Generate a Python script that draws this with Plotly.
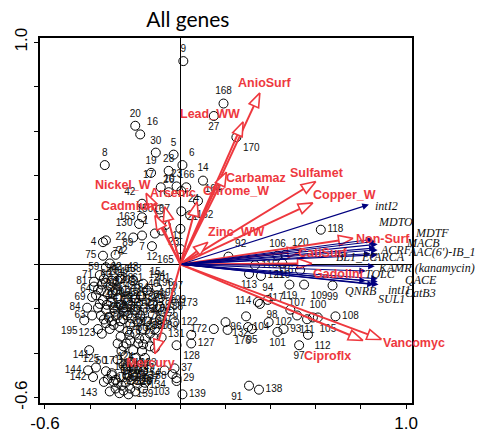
import numpy as np
import plotly.graph_objects as go

# ---------------- sample scores (labelled) ----------------
sample_ids = ["9","168","27","170","20","16","30","5","8","6","19","28","14","17","23","166","10","26",
              "42","164","150","163","130","167","24","162","21","11","22","7","1","12","23","165",
              "4","74","75","89","72","59","71","81","64","69","84","63","195","123","50","141","125",
              "144","142","143","171","124","126","187","134","103","37","29","159","139","91","138",
              "43","133","15","194","54","25","40","36","173","44","122","137","131","127","128","172",
              "132","176","96","118","92","106","120","115","121","113","110","116","119","109","99",
              "94","114","98","117","107","100","108","111","105","104","102","93","95","101","112","97"]
sample_x = [0.013,0.191,0.148,0.248,-0.200,-0.178,-0.109,-0.030,-0.335,0.009,-0.130,-0.052,0.100,-0.087,-0.017,0.026,0.004,-0.052,
            -0.170,0.078,-0.091,-0.170,-0.183,-0.083,0.004,0.043,0.000,-0.065,-0.209,-0.170,-0.113,-0.126,-0.083,0.000,
            -0.343,-0.330,-0.343,-0.287,-0.313,-0.330,-0.357,-0.383,-0.365,-0.391,-0.413,-0.391,-0.426,-0.348,-0.404,-0.374,-0.330,
            -0.409,-0.387,-0.339,-0.304,-0.243,-0.165,-0.070,-0.035,-0.017,-0.026,-0.017,-0.157,0.009,0.304,0.348,
            -0.265,-0.209,-0.165,-0.104,-0.304,-0.200,-0.174,-0.091,-0.026,-0.048,-0.026,-0.083,0.048,0.048,-0.017,0.148,
            0.200,0.209,0.300,0.622,0.213,0.430,0.465,0.330,0.357,0.304,0.452,0.530,0.483,0.548,0.674,
            0.387,0.343,0.352,0.487,0.517,0.609,0.687,0.561,0.587,0.291,0.391,0.457,0.317,0.430,0.565,0.526]
sample_y = [0.915,0.724,0.668,0.572,0.624,0.585,0.503,0.494,0.447,0.447,0.412,0.421,0.377,0.347,0.351,0.347,0.330,0.325,
            0.273,0.286,0.247,0.212,0.182,0.195,0.239,0.221,0.160,0.178,0.121,0.130,0.139,0.082,0.152,0.069,
            0.100,0.108,0.039,0.043,0.004,-0.013,-0.048,-0.078,-0.113,-0.147,-0.195,-0.230,-0.252,-0.312,-0.386,-0.464,-0.481,
            -0.477,-0.507,-0.529,-0.490,-0.473,-0.481,-0.477,-0.494,-0.525,-0.468,-0.512,-0.533,-0.585,-0.546,-0.564,
            -0.065,-0.074,-0.087,-0.104,-0.074,-0.152,-0.143,-0.191,-0.178,-0.212,-0.260,-0.329,-0.317,-0.356,-0.364,-0.291,
            -0.260,-0.295,-0.282,0.156,0.035,0.039,0.043,-0.004,-0.052,-0.043,0.004,-0.026,-0.091,-0.091,-0.095,
            -0.160,-0.169,-0.178,-0.204,-0.230,-0.239,-0.234,-0.247,-0.239,-0.234,-0.260,-0.291,-0.291,-0.304,-0.317,-0.364]
sample_textpos = ["top center","top center","bottom center","bottom right","top center","top right","top center","top center",
                  "top center","top right","top center","top center","top center","top left","top center","top center",
                  "top left","top center","top left","top right","middle left","middle left","middle left","top center",
                  "top right","middle right","top right","bottom right","middle left","bottom center","top left",
                  "bottom center","bottom right","bottom left",
                  "middle left","bottom right","middle left","top right","top right","middle left","middle left",
                  "middle left","middle left","middle left","middle left","middle left","bottom left","middle left",
                  "bottom right","top left","top left","middle left","middle left","bottom left","top center",
                  "top center","bottom center","bottom left","bottom left","bottom left","middle right","middle right",
                  "bottom center","middle right","bottom left","middle right",
                  "top right","top center","top right","top center","top center","top center","top right","top center",
                  "middle right","middle left","middle right","top center","middle left","middle right","bottom right",
                  "middle left","bottom right","bottom right","middle left","middle right","top right","top center",
                  "top right","middle right","middle right","bottom center","bottom center","middle left",
                  "bottom center","bottom right","bottom center","top center","middle left","bottom right","top left",
                  "top center","top center","middle right","bottom center","bottom right","bottom right","middle right",
                  "middle right","bottom center","bottom center","bottom right","bottom center"]

# ---------------- dense cluster of samples (lower left) ----------------
# (labels hidden under the "Mercury" label are left empty)
cluster_ids = ["31","32","33","34","38","39","41","45","46","47","48","49","51","52","53","55","56","57","58","60",
               "61","62","65","66","67",
               "68","70","73","76","77","78","79","80","82","83","","","","88","","","","","178",
               "179","180","181","182","183","184","185","186","188","189","","",
               "145","146","147","148","149","151","152","153","154","155","156","157","158","160","161","192","193",
               "196","197","198","199","","201",
               "202","203","204","205","206","207","208","209","210","211","212","213","214","215","","",
               "","219","220","221"]
cluster_x = [-0.330,-0.309,-0.352,-0.322,-0.287,-0.343,-0.309,-0.278,-0.365,-0.330,-0.296,-0.265,-0.352,-0.317,
             -0.287,-0.252,-0.330,-0.296,-0.265,-0.383,-0.243,-0.339,-0.278,-0.313,-0.365,
             -0.252,-0.222,-0.191,-0.235,-0.200,-0.165,-0.265,-0.222,-0.187,-0.157,-0.252,-0.209,-0.170,-0.135,
             -0.135,-0.243,-0.200,-0.157,-0.278,-0.113,-0.122,-0.157,-0.200,-0.222,-0.243,-0.178,-0.148,-0.091,
             -0.113,-0.278,-0.252,
             -0.322,-0.296,-0.265,-0.243,-0.217,-0.287,-0.252,-0.222,-0.191,-0.313,-0.278,-0.200,-0.165,-0.304,
             -0.235,-0.261,-0.209,
             -0.135,-0.091,-0.122,-0.078,-0.113,-0.148,
             -0.374,-0.357,-0.348,-0.300,-0.326,-0.291,-0.339,-0.270,-0.304,-0.252,-0.235,-0.217,-0.226,-0.183,
             -0.165,-0.239,-0.261,-0.287,-0.230,-0.270]
cluster_y = [-0.082,-0.100,-0.117,-0.134,-0.117,-0.160,-0.169,-0.152,-0.195,-0.204,-0.195,-0.182,-0.230,-0.239,
             -0.230,-0.213,-0.265,-0.273,-0.256,-0.100,-0.117,-0.065,-0.074,-0.291,-0.291,
             -0.247,-0.269,-0.256,-0.299,-0.312,-0.291,-0.325,-0.343,-0.356,-0.334,-0.369,-0.386,-0.390,-0.312,
             -0.369,-0.412,-0.421,-0.421,-0.356,-0.291,-0.226,-0.195,-0.204,-0.182,-0.160,-0.230,-0.256,-0.247,
             -0.334,-0.429,-0.455,
             -0.516,-0.529,-0.507,-0.533,-0.520,-0.559,-0.568,-0.559,-0.542,-0.572,-0.533,-0.572,-0.559,-0.499,
             -0.499,-0.546,-0.499,
             -0.139,-0.152,-0.182,-0.213,-0.377,-0.117,
             -0.139,-0.178,-0.091,-0.126,-0.182,-0.213,-0.248,-0.282,-0.256,-0.195,-0.230,-0.243,-0.317,-0.334,
             -0.360,-0.356,-0.390,-0.520,-0.585,-0.580]

# ---------------- environmental variables (red) ----------------
env_names = ["AnioSurf","Lead_WW","Carbamaz","Chrome_W","Sulfamet","Copper_W","Zinc_WW","Nickel_W",
             "Arsenic","Cadmium","Non-Surf","CatiSurf","Gadolini","Vancomyc","Ciproflx","Mercury"]
env_x = [0.352,0.278,0.204,0.074,0.600,0.587,0.122,-0.152,-0.070,-0.113,0.765,0.539,0.583,0.891,0.809,-0.113]
env_y = [0.772,0.642,0.416,0.282,0.373,0.277,0.100,0.321,0.260,0.221,0.117,0.061,0.004,-0.338,-0.343,-0.403]
env_lab_dx = [5,-33,30,39,1,32,28,-23,8,-25,30,20,26,32,-36,-4]
env_lab_dy = [-10,-8,6,-11,-9,-8,-10,-8,-14,-9,1,2,11,4,15,9]

# ---------------- genes (blue) ----------------
gene_names = ["intI2","MDTO","MDTF","MACB","ACRF","AAC(6')-IB_1","BL1_EC","ARCA","KAMR (kanamycin)",
              "TOLC","QACE","QNRB","intI1","CatB3","SUL1"]
gene_x = [0.835,0.852,0.865,0.874,0.865,0.874,0.843,0.874,0.861,0.822,0.874,0.822,0.874,0.878,0.857]
gene_y = [0.269,0.113,0.104,0.091,0.074,0.065,0.048,0.043,-0.009,-0.030,-0.065,-0.074,-0.078,-0.091,-0.091]
gene_lab_dx = [4,3,37,26,2,28,-37,-7,1,-3,25,-23,8,24,2]
gene_lab_dy = [1,-17,-8,-1,2,2,3,2,2,3,1,10,8,8,14]

RED = "#ee383e"
BLUE = "#00007f"

fig = go.Figure()

marker_style = dict(size=9, color="rgba(0,0,0,0)", line=dict(color="black", width=1))
label_font = dict(family="Liberation Sans, Arial", size=10, color="#111")

# samples
fig.add_trace(go.Scatter(
    x=cluster_x, y=cluster_y, mode="markers+text", text=cluster_ids, textposition="top right",
    marker=marker_style, textfont=label_font, hoverinfo="text", showlegend=False, cliponaxis=False))
fig.add_trace(go.Scatter(
    x=sample_x, y=sample_y, mode="markers+text", text=sample_ids, textposition=sample_textpos,
    marker=marker_style, textfont=label_font, hoverinfo="text", showlegend=False, cliponaxis=False))

# red arrows with hollow triangle heads (computed from the arrow tips)
head_len, head_half = 0.064, 0.023
lx, ly, tx, ty = [], [], [], []
for ex, ey in zip(env_x, env_y):
    v = np.array([ex, ey]); n = np.linalg.norm(v); u = v / n
    p = np.array([-u[1], u[0]])
    base = v - head_len * u
    lx += [0, base[0], None]; ly += [0, base[1], None]
    a = base + head_half * p; b = base - head_half * p
    tx += [ex, a[0], b[0], ex, None]; ty += [ey, a[1], b[1], ey, None]
fig.add_trace(go.Scatter(x=lx, y=ly, mode="lines", line=dict(color=RED, width=2),
                         showlegend=False, hoverinfo="skip"))
fig.add_trace(go.Scatter(x=tx, y=ty, mode="lines", fill="toself", fillcolor="white",
                         line=dict(color=RED, width=1.6), showlegend=False, hoverinfo="skip"))

annotations = []
# blue gene arrows
for gx, gy in zip(gene_x, gene_y):
    annotations.append(dict(x=gx, y=gy, ax=0, ay=0, xref="x", yref="y", axref="x", ayref="y",
                            showarrow=True, arrowhead=2, arrowsize=1.2, arrowwidth=1.1,
                            arrowcolor=BLUE, text="", standoff=0))
for name, gx, gy, dx, dy in zip(gene_names, gene_x, gene_y, gene_lab_dx, gene_lab_dy):
    annotations.append(dict(x=gx, y=gy, xref="x", yref="y", text="<i>" + name + "</i>", showarrow=False,
                            xanchor="left", yanchor="middle", xshift=dx, yshift=-dy,
                            font=dict(family="Liberation Serif, Times New Roman", size=12, color="#111")))
for name, ex, ey, dx, dy in zip(env_names, env_x, env_y, env_lab_dx, env_lab_dy):
    annotations.append(dict(x=ex, y=ey, xref="x", yref="y", text="<b>" + name + "</b>", showarrow=False,
                            xanchor="center", yanchor="middle", xshift=dx, yshift=-dy,
                            font=dict(family="Liberation Sans, Arial", size=12.5, color=RED)))

xticks = [-0.6, -0.4, -0.2, 0.0, 0.2, 0.4, 0.6, 0.8, 1.0]
xtick_text = ["-0.6", "", "", "", "", "", "", "", "1.0"]
yticks = [-0.6, -0.4, -0.2, 0.0, 0.2, 0.4, 0.6, 0.8, 1.0]
ytick_text = ["-0.6", "", "", "", "", "", "", "", "1.0"]

axis_common = dict(showgrid=False, zeroline=True, zerolinecolor="black", zerolinewidth=1,
                   showline=True, mirror=True, linecolor="black", linewidth=1.5,
                   ticks="outside", ticklen=4, tickcolor="black", tickwidth=1,
                   tickfont=dict(family="Liberation Sans, Arial", size=17, color="black"))

fig.update_layout(
    width=478, height=445,
    margin=dict(l=33, r=66, t=38, b=28),
    paper_bgcolor="white", plot_bgcolor="white",
    title=dict(text="All genes", x=0.393, xanchor="center", y=0.955, yanchor="middle",
               font=dict(family="Lato, Open Sans", size=21, color="black")),
    xaxis=dict(range=[-0.622, 1.026], tickvals=xticks, ticktext=xtick_text, **axis_common),
    yaxis=dict(range=[-0.624, 1.019], tickvals=yticks, ticktext=ytick_text, tickangle=-90, **axis_common),
    annotations=annotations,
    showlegend=False,
)

fig.write_html("out.html")
